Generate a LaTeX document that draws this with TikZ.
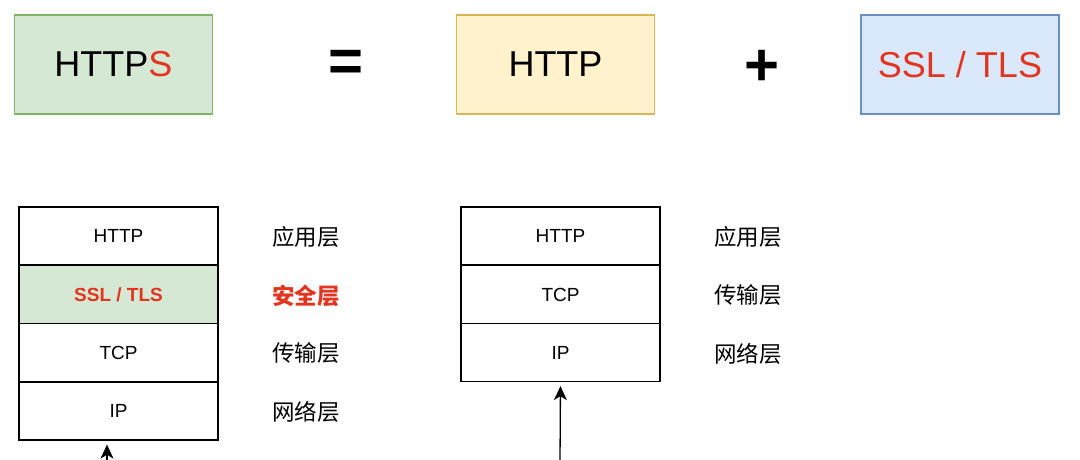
\documentclass[tikz,border=0pt]{standalone}
\usepackage{fontspec}
\setmainfont{Liberation Sans}
\newfontfamily\cjk{Noto Sans CJK SC}
\usetikzlibrary{arrows.meta,positioning}
\definecolor{ink}{HTML}{000000}
\definecolor{alert}{HTML}{E3341F}
\definecolor{greenfill}{HTML}{D5E8D4}
\definecolor{greenline}{HTML}{82B366}
\definecolor{yellowfill}{HTML}{FFF2CC}
\definecolor{yellowline}{HTML}{D6B656}
\definecolor{bluefill}{HTML}{DAE8FC}
\definecolor{blueline}{HTML}{6C8EBF}
\newcommand{\bigsize}{\fontsize{36}{42}\selectfont}
\newcommand{\layersize}{\fontsize{19}{22}\selectfont}
\tikzset{
 every node/.append style={text=ink,align=center},
 headbox/.style={draw,line width=1.2pt,minimum width=198pt,minimum height=99pt,inner sep=0pt,font=\bigsize},
 layer/.style={draw=ink,fill=white,line width=1.3pt,minimum width=199pt,minimum height=58pt,inner sep=0pt,font=\layersize},
 layername/.style={anchor=west,inner sep=0pt,font=\cjk\fontsize{22.5}{26}\selectfont},
 opsign/.style={font=\fontsize{60}{64}\selectfont\bfseries,inner sep=0pt},
 uparrow/.style={-{Stealth[length=14pt,width=13pt,inset=4pt]},draw=ink,line width=1.3pt,shorten >=4pt},
}

\begin{document}
\begin{tikzpicture}[x=1pt,y=-1pt]
\useasboundingbox (0,0) rectangle (1080,460);

\node[headbox,draw=greenline,fill=greenfill] (https) at (113.5,64.5) {HTTP\textcolor{alert}{S}};
\node[opsign] (eq) at (346,66) {=};
\node[headbox,draw=yellowline,fill=yellowfill] (http) at (555.5,64.5) {HTTP};
\node[opsign] (plus) at (762,68) {+};
\node[headbox,draw=blueline,fill=bluefill,text=alert] (tls) at (960,64.5) {SSL / TLS};

\node[layer] (app1) at (118.5,236) {HTTP};
\node[layer,draw=ink,fill=greenfill,font=\layersize\bfseries,text=alert] (sec1) at (118.5,294.5) {SSL / TLS};
\node[layer] (tcp1) at (118.5,352.5) {TCP};
\node[layer] (ip1) at (118.5,411) {IP};
\node[layername] (n_app1) at (272,237) {应用层};
\node[layername,font=\cjk\fontsize{22.5}{26}\selectfont\bfseries,text=alert] (n_sec1) at (272,295.5) {安全层};
\node[layername] (n_tcp1) at (272,353.5) {传输层};
\node[layername] (n_ip1) at (272,412) {网络层};

\node[layer] (app2) at (560.5,236) {HTTP};
\node[layer] (tcp2) at (560.5,294.5) {TCP};
\node[layer] (ip2) at (560.5,352.5) {IP};
\node[layername] (n_app2) at (714,237) {应用层};
\node[layername] (n_tcp2) at (714,295.5) {传输层};
\node[layername] (n_ip2) at (714,353.5) {网络层};

\coordinate (in1) at (107,462);
\coordinate (in2) at (560,462);
\draw[uparrow] (in1) -- (in1 |- ip1.south);
\draw[uparrow] (in2) -- (ip2.south);

\end{tikzpicture}
\end{document}
